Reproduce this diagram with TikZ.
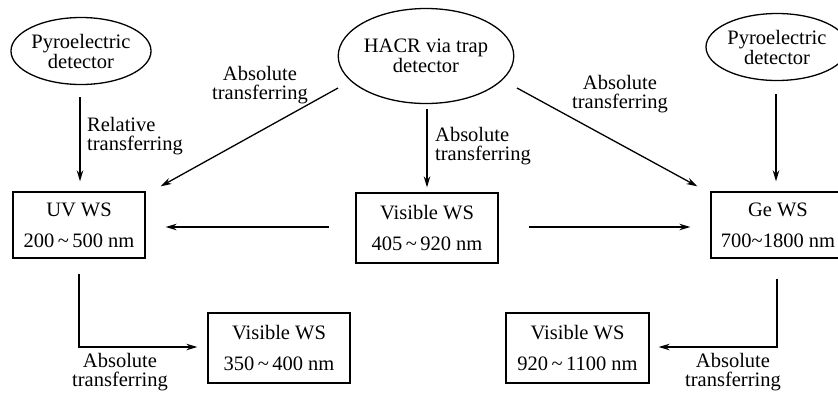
\documentclass[tikz,border=0pt]{standalone}
\usepackage{fontspec}
\setmainfont{Liberation Serif}
\usetikzlibrary{arrows.meta,calc,shapes.geometric}

\begin{document}
\begin{tikzpicture}[x=1pt,y=-1pt,
  every node/.style={align=center},
  src/.style={ellipse, draw, line width=1.3pt, inner sep=0pt,
              font=\fontsize{20.5}{20}\selectfont},
  ws/.style={draw, line width=1.3pt, inner sep=0pt,
             font=\fontsize{20.5}{31}\selectfont},
  lbl/.style={font=\fontsize{20.5}{18.5}\selectfont, inner sep=0pt},
  arr/.style={line width=1.3pt, -{Stealth[length=11pt,width=6.5pt]}}]
\useasboundingbox (0,0) rectangle (838,392);

% sources
\node[src, minimum width=139, minimum height=67] (pyroL) at (81,51) {Pyroelectric\\detector};
\node[src, minimum width=172, minimum height=95] (hacr) at (426,56) {HACR via trap\\detector};
\node[src, minimum width=142, minimum height=67] (pyroR) at (777,47) {Pyroelectric\\detector};

% working standards
\node[ws, minimum width=132, minimum height=66] (uv) at (79,225) {UV WS\\200\,\textasciitilde\,500 nm};
\node[ws, minimum width=142, minimum height=70] (vis) at (427,228) {Visible WS\\405\,\textasciitilde\,920 nm};
\node[ws, minimum width=134, minimum height=66] (ge) at (778,225) {Ge WS\\700\textasciitilde1800 nm};
\node[ws, minimum width=142, minimum height=70] (visA) at (279,348) {Visible WS\\350\,\textasciitilde\,400 nm};
\node[ws, minimum width=143, minimum height=70] (visB) at (577.5,348) {Visible WS\\920\,\textasciitilde\,1100 nm};

% transfers
\draw[arr] ($(pyroL.south)+(-1,12)$) -- ($(pyroL.south |- uv.north)+(-1,-10)$);
\draw[arr] ($(hacr.south)+(1,5)$) -- ($(hacr.south |- vis.north)+(1,-5)$);
\draw[arr] ($(pyroR.south)+(-1,13)$) -- ($(pyroR.south |- ge.north)+(-1,-10)$);
\draw[arr] ($(hacr.center)+(-88,32)$) -- ($(uv.north east)+(15,-5)$);
\draw[arr] ($(hacr.center)+(91,32)$) -- ($(ge.north west)+(-13,-5)$);
\draw[arr] ($(vis.west)+(-26,-1)$) -- ($(uv.east |- vis.west)+(20,-1)$);
\draw[arr] ($(vis.east)+(30,-1)$) -- ($(ge.west |- vis.east)+(-20,-1)$);
\draw[arr] ($(uv.south)+(0,15)$) |- ($(visA.west)+(-10,-1)$);
\draw[arr] ($(ge.south)+(-1,20)$) |- ($(visB.east)+(9,-1)$);

% labels
\node[lbl, anchor=west, align=left] (lRel) at (87,136) {Relative\\transferring};
\node[lbl, anchor=west, align=left] (lMid) at (435,146) {Absolute\\transferring};
\node[lbl] (lDL) at (260,85) {Absolute\\transferring};
\node[lbl] (lDR) at (620,94) {Absolute\\transferring};
\node[lbl] (lBL) at (120,372) {Absolute\\transferring};
\node[lbl] (lBR) at (733,372) {Absolute\\transferring};
\end{tikzpicture}
\end{document}
